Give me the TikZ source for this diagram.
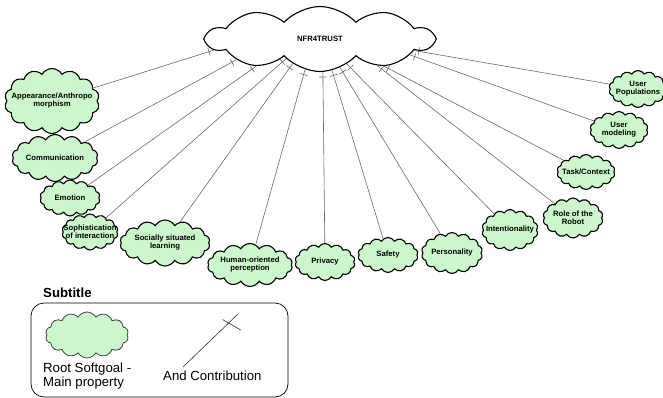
\documentclass[tikz,border=0pt]{standalone}
\usepackage{fontspec}
\setmainfont{Liberation Sans}
\usepackage{xcolor}
\usetikzlibrary{shapes.symbols, decorations.markings}

\definecolor{goalgreen}{RGB}{204,247,204}
\definecolor{linegray}{RGB}{105,105,105}

\begin{document}
\begin{tikzpicture}[x=1pt, y=-1pt,
    every node/.style={font=\fontsize{7.7}{8}\selectfont\bfseries},
    softgoal/.style={cloud, cloud puffs=14, cloud puff arc=120, cloud ignores aspect,
        draw=black, line width=1.1pt, fill=goalgreen, inner sep=0pt},
    rootgoal/.style={cloud, cloud puffs=10, cloud puff arc=95, cloud ignores aspect,
        draw=black, line width=1.1pt, fill=white, inner sep=0pt},
    txt/.style={align=center, inner sep=0pt},
    legtxt/.style={font=\fontsize{13.2}{14}\selectfont, align=left, inner sep=0pt},
    andlink/.style={draw=linegray, line width=0.6pt, postaction={decorate},
        decoration={markings, mark=at position -5pt with {\draw[linegray, line width=0.6pt] (0,-4pt) -- (0,4pt);}}}]

    \useasboundingbox (0,0) rectangle (663,398);

    % root softgoal
    \node[rootgoal, minimum width=226pt, minimum height=65pt] (root) at (320,39) {NFR4TRUST};

    % left side
    \node[softgoal, minimum width=95pt, minimum height=65pt, label={[txt]center:Appearance/Anthropo\\morphism}] (app) at (52,101) {};
    \node[softgoal, minimum width=86pt, minimum height=47pt, label={[txt]center:Communication}] (comm) at (55,158) {};
    \node[softgoal, minimum width=60pt, minimum height=36pt, label={[txt]center:Emotion}] (emo) at (70,198) {};
    \node[softgoal, minimum width=56pt, minimum height=36pt, label={[txt]center:Sophistication\\of interaction}] (soph) at (90,232) {};
    \node[softgoal, minimum width=90pt, minimum height=46pt, label={[txt]center:Socially situated\\learning}] (soc) at (165,243) {};

    % bottom
    \node[softgoal, minimum width=85pt, minimum height=43pt, label={[txt]center:Human-oriented\\perception}] (hum) at (250,265) {};
    \node[softgoal, minimum width=60pt, minimum height=37pt, label={[txt]center:Privacy}] (priv) at (325,262) {};
    \node[softgoal, minimum width=60pt, minimum height=35pt, label={[txt]center:Safety}] (safe) at (388,255) {};
    \node[softgoal, minimum width=61pt, minimum height=41pt, label={[txt]center:Personality}] (pers) at (452,253) {};

    % right side
    \node[softgoal, minimum width=56pt, minimum height=41pt, label={[txt]center:Intentionality}] (inten) at (510,230) {};
    \node[softgoal, minimum width=60pt, minimum height=40pt, label={[txt]center:Role of the\\Robot}] (role) at (573,218) {};
    \node[softgoal, minimum width=58pt, minimum height=35pt, label={[txt]center:Task/Context}] (task) at (586,172) {};
    \node[softgoal, minimum width=58pt, minimum height=37pt, label={[txt]center:User\\modeling}] (umod) at (619,130) {};
    \node[softgoal, minimum width=58pt, minimum height=37pt, label={[txt]center:User\\Populations}] (upop) at (638,89) {};

    % and contributions
    \draw[andlink] (app) -- (root.186);
    \draw[andlink] (comm) -- (root.194);
    \draw[andlink] (emo) -- (root.203);
    \draw[andlink] (soph) -- (root.210);
    \draw[andlink] (soc) -- (root.222);
    \draw[andlink] (hum) -- (root.244);
    \draw[andlink] (priv) -- (root.275);
    \draw[andlink] (safe) -- (root.291);
    \draw[andlink] (pers) -- (root.305);
    \draw[andlink] (inten) -- (root.317);
    \draw[andlink] (role) -- (root.335);
    \draw[andlink] (task) -- (root.337);
    \draw[andlink] (umod) -- (root.350);
    \draw[andlink] (upop) -- (root.353);

    % subtitle
    \node[legtxt, font=\fontsize{13.2}{14}\selectfont\bfseries, anchor=base west] (subt) at (43,297) {Subtitle};
    \draw[line width=0.7pt, rounded corners=13pt] (31,303) rectangle (288,397);
    \node[softgoal, draw=black!75, line width=0.8pt, minimum width=83pt, minimum height=46pt] (legroot) at (87,335) {};
    \node[legtxt, anchor=base west] (legroottxt) at (43,386) {Root Softgoal -\\Main property};
    \coordinate (lega) at (183,367);
    \coordinate (legb) at (238,314);
    \draw[black!80, line width=0.6pt, postaction={decorate},
        decoration={markings, mark=at position -13pt with {\draw[black!80, line width=0.6pt] (106:7pt) -- (-74:14pt);}}]
        (lega) -- (legb);
    \node[legtxt, anchor=base west] (legand) at (163,380) {And Contribution};
\end{tikzpicture}
\end{document}
